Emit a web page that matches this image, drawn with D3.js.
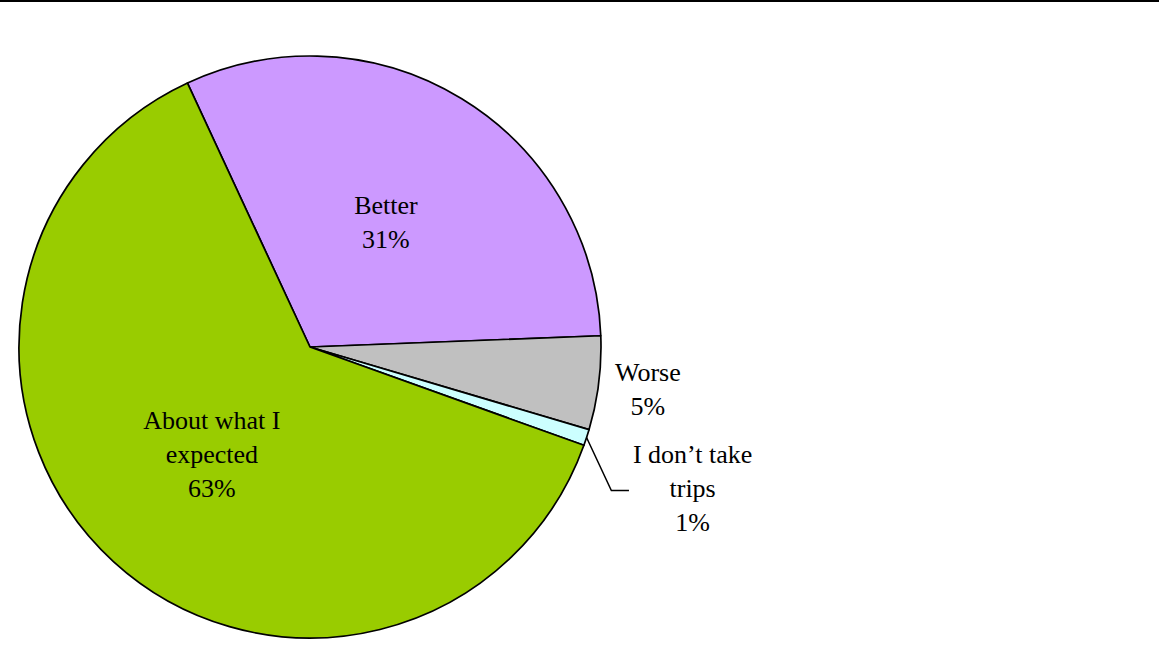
<!DOCTYPE html>
<html>
<head>
<meta charset="utf-8">
<script src="https://cdn.jsdelivr.net/npm/d3@7/dist/d3.min.js"></script>
<style>
  html, body { margin: 0; padding: 0; background: #fff; }
  svg { display: block; }
  text { font-family: "Liberation Serif", "Times New Roman", serif; font-size: 26px; fill: #000; }
</style>
</head>
<body>
<svg id="chart" width="1159" height="649"></svg>
<script>
// Survey answers, in clockwise drawing order
const categories = ["Better", "Worse", "I don\u2019t take trips", "About what I expected"];
const labelLines = [["Better"], ["Worse"], ["I don\u2019t take", "trips"], ["About what I", "expected"]];
const values = [31.3, 5.2, 0.9, 62.6];
const colors = ["#CC99FF", "#C0C0C0", "#CCFFFF", "#99CC00"];

const W = 1159, H = 649;
const cx = 310, cy = 347, R = 291;
const lineGap = 34, capH = 17;
const startDeg = -24.9;

const svg = d3.select("#chart");

// rule across the top of the page
svg.append("rect").attr("x", 0).attr("y", 0).attr("width", W).attr("height", 2).attr("fill", "#000");

const total = d3.sum(values);
const pie = d3.pie().sort(null).value(d => d.value)
  .startAngle(startDeg * Math.PI / 180)
  .endAngle(startDeg * Math.PI / 180 + 2 * Math.PI);

const data = categories.map((c, i) => ({ name: c, value: values[i], color: colors[i], lines: labelLines[i] }));
const arcs = pie(data);
const arc = d3.arc().innerRadius(0).outerRadius(R);

const g = svg.append("g").attr("transform", `translate(${cx},${cy})`);

g.selectAll("path.slice").data(arcs).join("path")
  .attr("class", "slice")
  .attr("d", arc)
  .attr("fill", d => d.data.color)
  .attr("stroke", "#000")
  .attr("stroke-width", 1.7)
  .attr("stroke-linejoin", "round");

// label placement: radial distance as a fraction of R, optional angle override (degrees)
const labelPlace = [
  { k: 0.5 },
  { k: 1.17 },
  { k: 1.402, angle: 110.3, leader: true },
  { k: 0.5 }
];

const fmt = v => Math.round(v / total * 100) + "%";

arcs.forEach((a, i) => {
  const p = labelPlace[i];
  const mid = (a.startAngle + a.endAngle) / 2;
  const ang = p.angle !== undefined ? p.angle * Math.PI / 180 : mid;
  const lx = Math.sin(ang) * R * p.k;
  const ly = -Math.cos(ang) * R * p.k;
  const lines = a.data.lines.concat([fmt(a.data.value)]);
  const blockH = capH + (lines.length - 1) * lineGap;
  const firstBase = ly - blockH / 2 + capH;

  const t = g.append("text").attr("text-anchor", "middle");
  lines.forEach((s, j) => {
    t.append("tspan").attr("x", lx).attr("y", firstBase + j * lineGap).text(s);
  });

  if (p.leader) {
    const bb = t.node().getBBox();
    const ex = bb.x - 4, ey = ly + 2;
    const sx = Math.sin(mid) * R, sy = -Math.cos(mid) * R;
    g.append("path")
      .attr("d", `M${sx},${sy}L${ex - 17.6},${ey}L${ex},${ey}`)
      .attr("fill", "none")
      .attr("stroke", "#000")
      .attr("stroke-width", 1.5);
  }
});
</script>
</body>
</html>
